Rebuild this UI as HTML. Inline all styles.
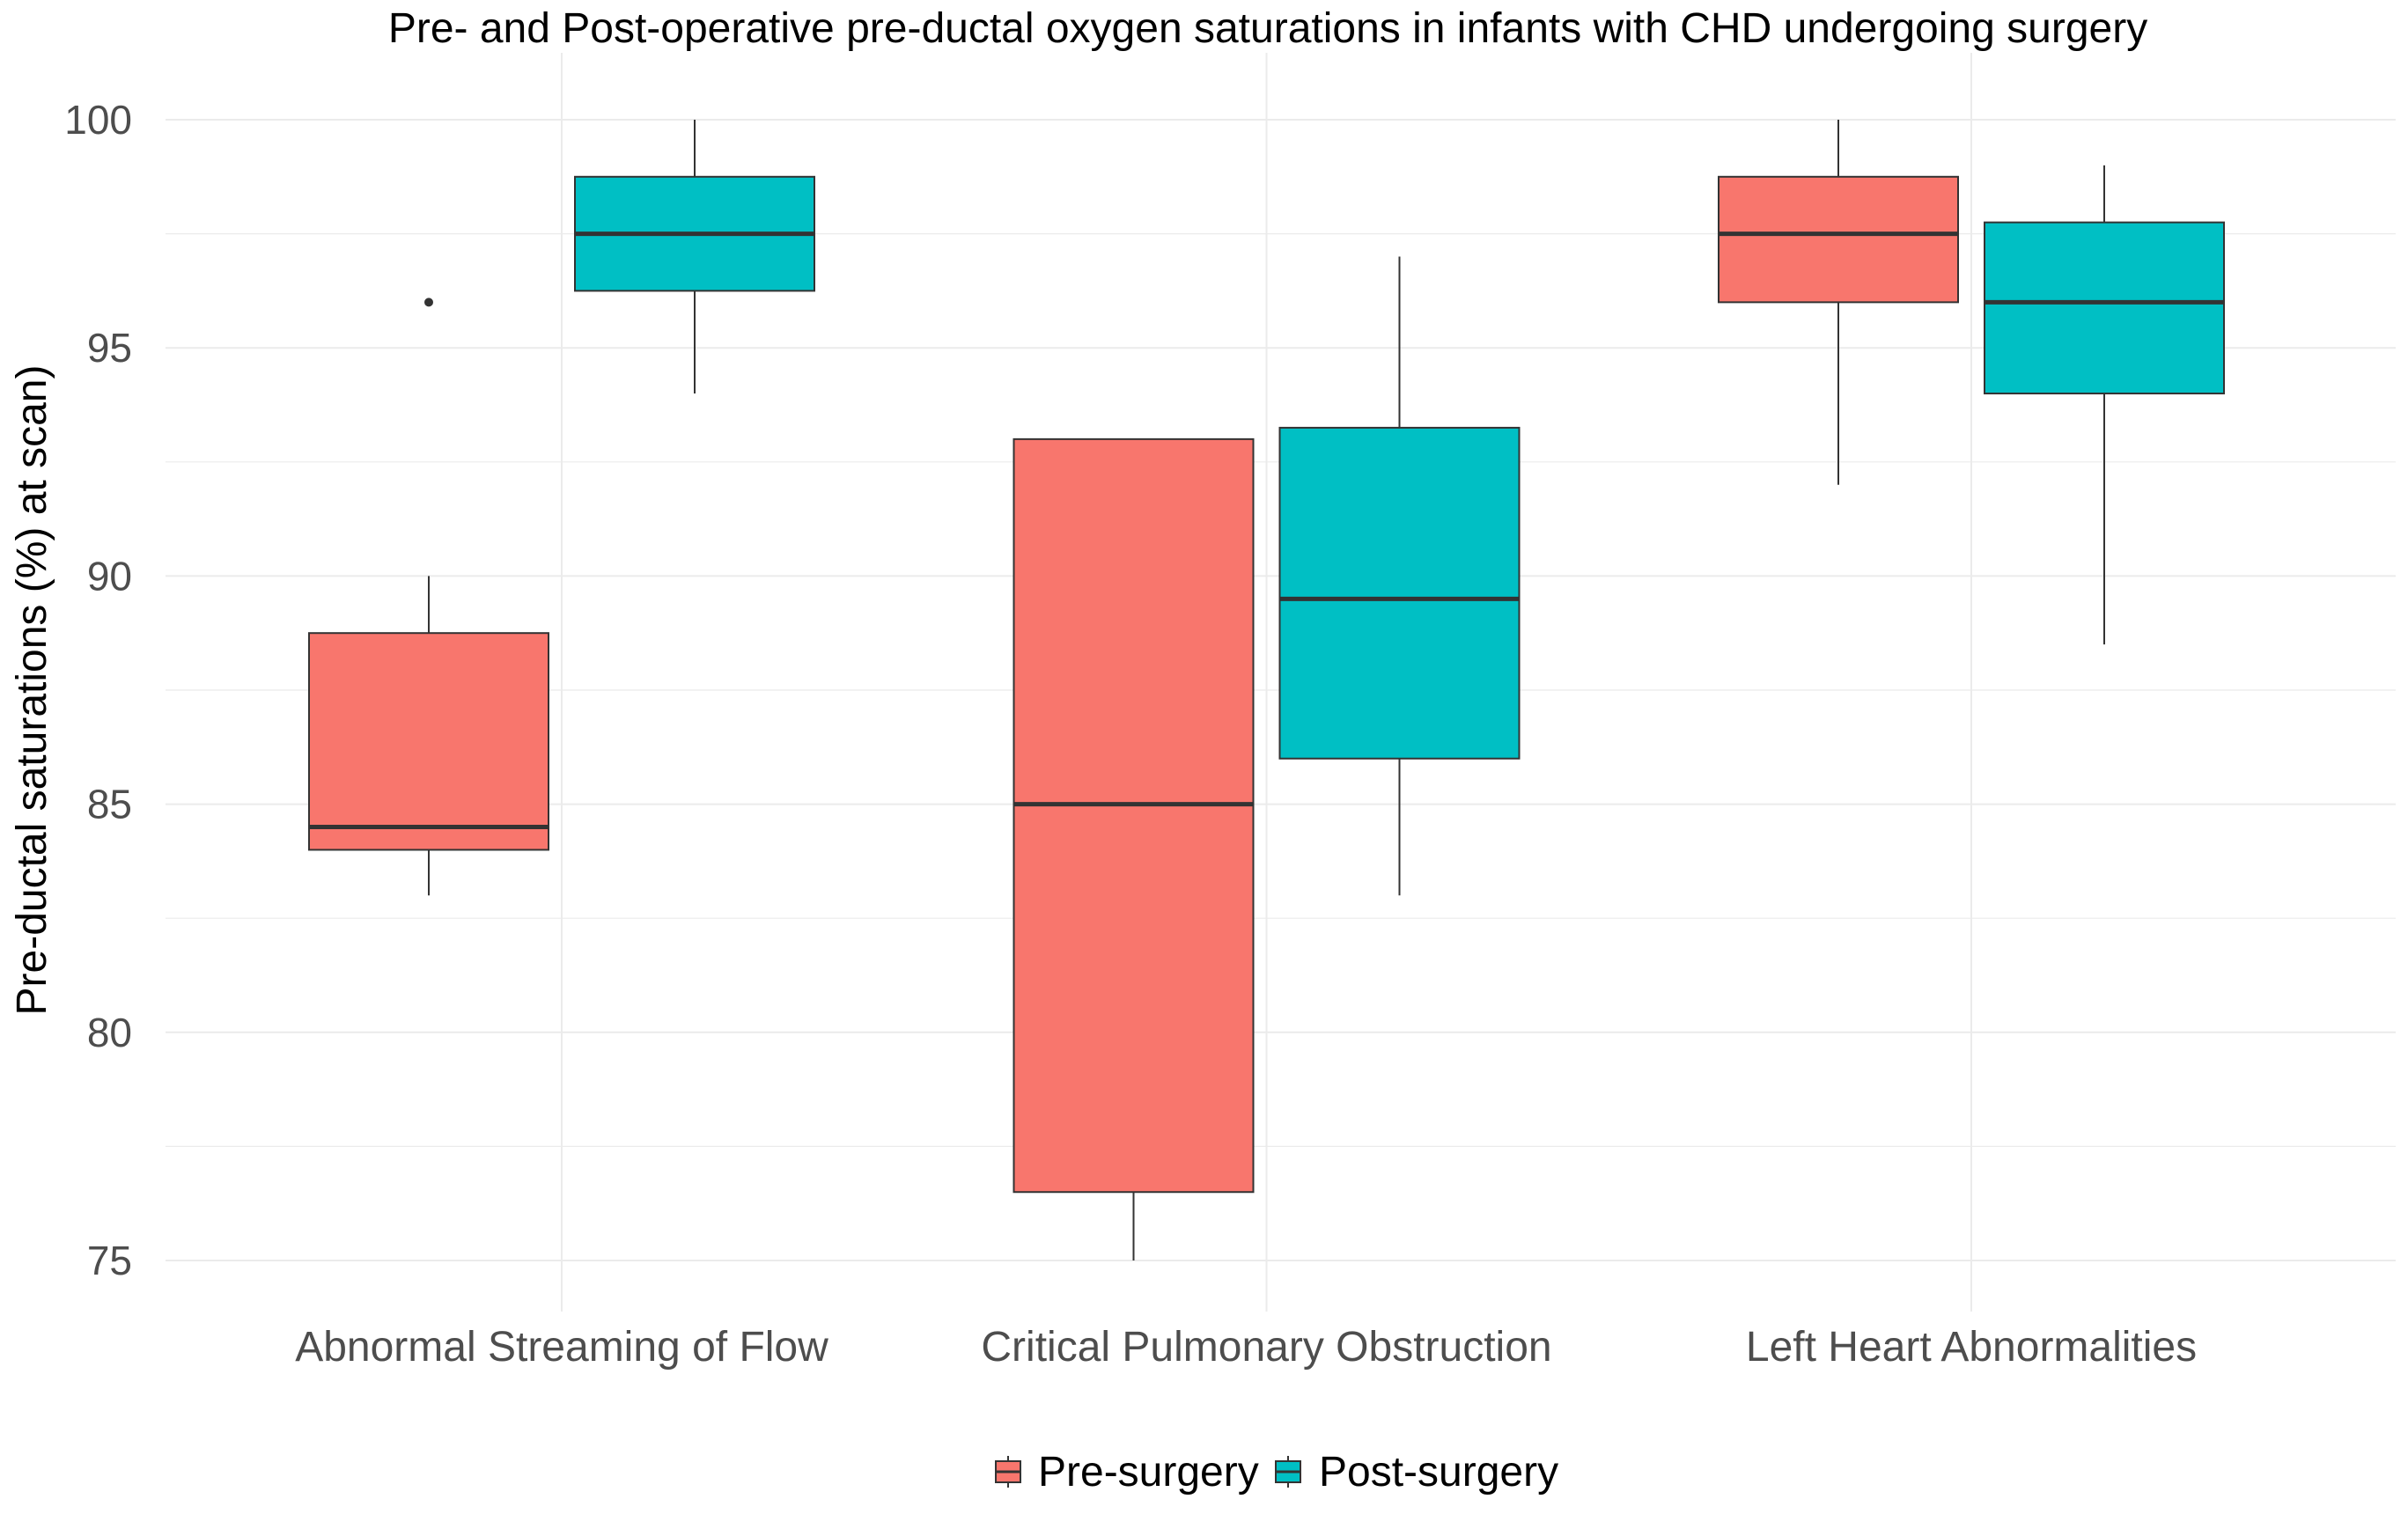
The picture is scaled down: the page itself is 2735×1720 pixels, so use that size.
<!DOCTYPE html>
<html><head><meta charset="utf-8"><style>
html,body{margin:0;padding:0;background:#fff;}
svg{display:block;font-family:"Liberation Sans",sans-serif;}
</style></head><body>
<svg id="chart" width="2735" height="1720" viewBox="0 0 2735 1720">
<rect width="2735" height="1720" fill="#fff"/>
<text x="1440" y="48" font-size="48" text-anchor="middle" fill="#000">Pre- and Post-operative pre-ductal oxygen saturations in infants with CHD undergoing surgery</text>
<text transform="translate(52,784) rotate(-90)" font-size="48" text-anchor="middle" fill="#000">Pre-ductal saturations (%) at scan)</text>
<g id="grid"></g><g id="boxes"></g><g id="labels"></g>
<g>
<g>
<line x1="1145" y1="1654" x2="1145" y2="1690" stroke="#333" stroke-width="2"/>
<rect x="1131" y="1660" width="28" height="24" fill="#F8766D" stroke="#333" stroke-width="2"/>
<line x1="1131" y1="1672" x2="1159" y2="1672" stroke="#333" stroke-width="3"/>
<text x="1179" y="1688" font-size="48" fill="#000">Pre-surgery</text></g>
<g>
<line x1="1463" y1="1654" x2="1463" y2="1690" stroke="#333" stroke-width="2"/>
<rect x="1449" y="1660" width="28" height="24" fill="#00BFC4" stroke="#333" stroke-width="2"/>
<line x1="1449" y1="1672" x2="1477" y2="1672" stroke="#333" stroke-width="3"/>
<text x="1498" y="1688" font-size="48" fill="#000">Post-surgery</text></g>
</g>
</svg>
<script>
const categories=["Abnormal Streaming of Flow","Critical Pulmonary Obstruction","Left Heart Abnormalities"];
const groups=["Pre-surgery","Post-surgery"];
const colors=["#F8766D","#00BFC4"];
const preStats=[[83,84,84.5,88.75,90],[75,76.5,85,93,93],[92,96,97.5,98.75,100]];
const postStats=[[94,96.25,97.5,98.75,100],[83,86,89.5,93.25,97],[88.5,94,96,97.75,99]];
const preOutliers=[[96],[],[]];
const postOutliers=[[],[],[]];
const yTicks=[75,80,85,90,95,100];
const NS="http://www.w3.org/2000/svg";
const L=188,R=2721,T=60,B=1490;
function y(v){return 1432-(v-75)*(1432-136)/25;}
function xc(i){return 638+i*800.5;}
function mk(tag,attrs,parent){const e=document.createElementNS(NS,tag);for(const k in attrs)e.setAttribute(k,attrs[k]);parent.appendChild(e);return e;}
const grid=document.getElementById('grid'),boxes=document.getElementById('boxes'),labels=document.getElementById('labels');
for(let v=75;v<=100;v+=2.5){const ln=mk('line',{x1:L,x2:R,y1:y(v),y2:y(v),stroke:'#ebebeb','stroke-width':v%5===0?2:1.2},grid);

}
categories.forEach((c,i)=>{const ln=mk('line',{x1:xc(i),x2:xc(i),y1:T,y2:B,stroke:'#ebebeb','stroke-width':2},grid);


const t=mk('text',{x:xc(i),y:1546,'font-size':48,'text-anchor':'middle',fill:'#4d4d4d'},labels);t.textContent=c;

});
yTicks.forEach(v=>{const t=mk('text',{x:150,y:y(v)+16,'font-size':46,'text-anchor':'end',fill:'#4d4d4d'},labels);t.textContent=v;

});
const bw=272,off=151;
[preStats,postStats].forEach((stats,g)=>{stats.forEach((s,i)=>{
const cx=xc(i)+(g===0?-off:off);
const grp=mk('g',{},boxes);


mk('line',{x1:cx,x2:cx,y1:y(s[4]),y2:y(s[3]),stroke:'#333','stroke-width':2},grp);
mk('line',{x1:cx,x2:cx,y1:y(s[1]),y2:y(s[0]),stroke:'#333','stroke-width':2},grp);
mk('rect',{x:cx-bw/2,y:y(s[3]),width:bw,height:y(s[1])-y(s[3]),fill:colors[g],stroke:'#333','stroke-width':2},grp);
mk('line',{x1:cx-bw/2,x2:cx+bw/2,y1:y(s[2]),y2:y(s[2]),stroke:'#333','stroke-width':5},grp);
const outs=(g===0?preOutliers:postOutliers)[i];
outs.forEach(o=>{const p=mk('circle',{cx:cx,cy:y(o),r:5,fill:'#333'},grp);

});
});});
</script>
</body></html>
